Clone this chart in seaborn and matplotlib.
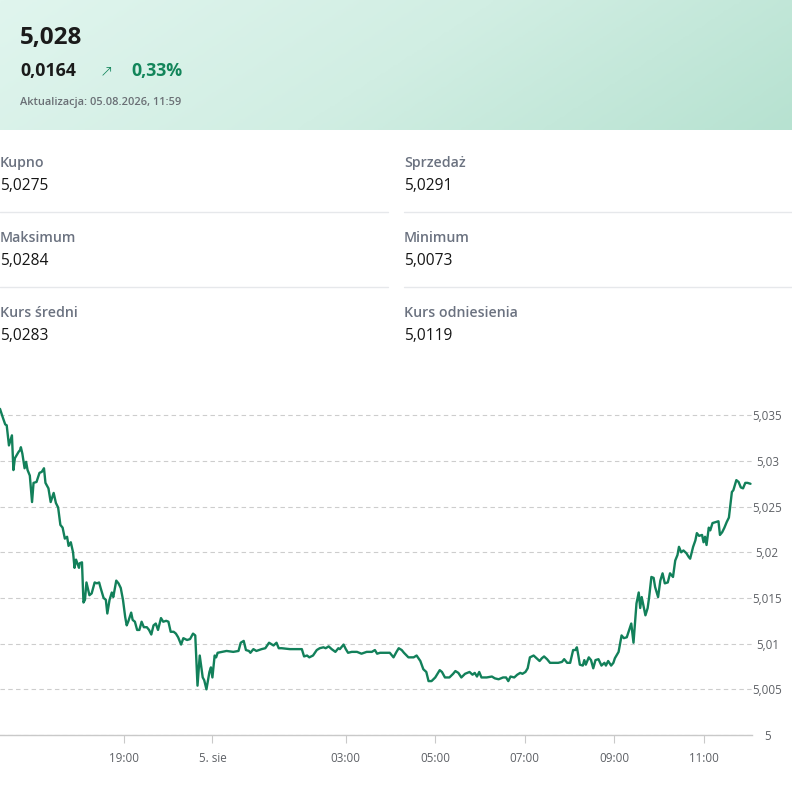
import numpy as np
import pandas as pd
import matplotlib
matplotlib.use("Agg")
import matplotlib.pyplot as plt
import seaborn as sns
from matplotlib.colors import LinearSegmentedColormap
from matplotlib.ticker import FuncFormatter

# kurs - minuty osi (oś porządkowa, przerwa nocna ściśnięta) i wartości
minutes = [0, 4, 7, 9, 12, 16, 18, 20, 25, 27, 28, 30, 33, 35, 37, 40, 43, 45, 49, 53,
           56, 59, 61, 65, 68, 72, 75, 78, 81, 84, 87, 90, 92, 95, 98, 100, 102, 106, 107, 110,
           112, 114, 116, 120, 123, 127, 130, 133, 135, 139, 142, 144, 147, 150, 152, 156, 159, 162, 165, 168,
           170, 172, 176, 178, 181, 184, 187, 190, 193, 197, 200, 203, 206, 209, 212, 216, 219, 223, 226, 229,
           233, 236, 239, 243, 246, 251, 255, 259, 262, 265, 268, 272, 274, 277, 281, 283, 285, 288, 290, 292,
           298, 304, 313, 320, 323, 327, 330, 334, 336, 340, 344, 351, 356, 361, 367, 371, 374, 378, 389, 405,
           408, 412, 415, 420, 425, 429, 434, 437, 441, 445, 450, 454, 456, 461, 464, 467, 472, 479, 485, 492,
           499, 503, 506, 510, 517, 523, 528, 532, 535, 539, 542, 548, 555, 559, 564, 568, 572, 575, 579, 584,
           590, 593, 597, 603, 608, 611, 615, 619, 624, 630, 634, 637, 640, 643, 646, 653, 660, 664, 669, 675,
           679, 682, 685, 690, 694, 698, 701, 705, 708, 711, 716, 720, 724, 727, 730, 734, 738, 743, 749, 754,
           757, 761, 765, 769, 772, 774, 776, 778, 782, 784, 786, 790, 793, 796, 799, 803, 807, 811, 813, 816,
           820, 823, 825, 830, 834, 837, 841, 845, 847, 850, 854, 857, 859, 861, 866, 869, 871, 874, 877, 879,
           883, 886, 889, 892, 896, 899, 903, 906, 909, 911, 914, 917, 921, 924, 926, 930, 933, 935, 938, 942,
           944, 946, 948, 951, 953, 956, 960, 964, 966, 969, 972, 975, 978, 982, 984, 988, 991, 994, 997, 1000,
           1003, 1007]
rate = [5.0357, 5.0347, 5.0340, 5.0339, 5.0317, 5.0328, 5.0290, 5.0303, 5.0310, 5.0312,
        5.0315, 5.0308, 5.0292, 5.0299, 5.0290, 5.0284, 5.0255, 5.0276, 5.0277, 5.0287,
        5.0288, 5.0292, 5.0276, 5.0270, 5.0255, 5.0265, 5.0254, 5.0249, 5.0230, 5.0227,
        5.0215, 5.0217, 5.0207, 5.0211, 5.0200, 5.0183, 5.0192, 5.0183, 5.0188, 5.0189,
        5.0145, 5.0148, 5.0167, 5.0153, 5.0155, 5.0167, 5.0166, 5.0167, 5.0161, 5.0150,
        5.0148, 5.0133, 5.0148, 5.0156, 5.0151, 5.0169, 5.0166, 5.0161, 5.0148, 5.0129,
        5.0120, 5.0124, 5.0134, 5.0126, 5.0124, 5.0115, 5.0115, 5.0124, 5.0118, 5.0118,
        5.0115, 5.0110, 5.0120, 5.0122, 5.0115, 5.0128, 5.0124, 5.0125, 5.0124, 5.0113,
        5.0113, 5.0111, 5.0107, 5.0099, 5.0106, 5.0104, 5.0105, 5.0111, 5.0109, 5.0054,
        5.0087, 5.0063, 5.0060, 5.0050, 5.0069, 5.0074, 5.0063, 5.0087, 5.0085, 5.0090,
        5.0091, 5.0092, 5.0091, 5.0092, 5.0101, 5.0103, 5.0093, 5.0092, 5.0090, 5.0094,
        5.0092, 5.0094, 5.0095, 5.0101, 5.0098, 5.0101, 5.0095, 5.0095, 5.0094, 5.0094,
        5.0086, 5.0087, 5.0085, 5.0087, 5.0093, 5.0095, 5.0096, 5.0095, 5.0097, 5.0094,
        5.0091, 5.0095, 5.0094, 5.0099, 5.0094, 5.0090, 5.0091, 5.0091, 5.0089, 5.0091,
        5.0091, 5.0093, 5.0089, 5.0090, 5.0090, 5.0090, 5.0085, 5.0091, 5.0095, 5.0093,
        5.0090, 5.0085, 5.0085, 5.0087, 5.0081, 5.0072, 5.0069, 5.0059, 5.0059, 5.0063,
        5.0071, 5.0069, 5.0063, 5.0063, 5.0067, 5.0070, 5.0068, 5.0063, 5.0067, 5.0069,
        5.0066, 5.0068, 5.0064, 5.0069, 5.0063, 5.0063, 5.0064, 5.0062, 5.0061, 5.0063,
        5.0063, 5.0059, 5.0064, 5.0063, 5.0066, 5.0068, 5.0067, 5.0069, 5.0073, 5.0085,
        5.0087, 5.0084, 5.0081, 5.0084, 5.0086, 5.0083, 5.0079, 5.0079, 5.0079, 5.0080,
        5.0083, 5.0079, 5.0079, 5.0093, 5.0093, 5.0096, 5.0087, 5.0077, 5.0076, 5.0082,
        5.0077, 5.0085, 5.0082, 5.0073, 5.0082, 5.0083, 5.0076, 5.0079, 5.0076, 5.0081,
        5.0076, 5.0079, 5.0084, 5.0091, 5.0109, 5.0106, 5.0107, 5.0117, 5.0122, 5.0101,
        5.0144, 5.0156, 5.0139, 5.0151, 5.0131, 5.0139, 5.0151, 5.0173, 5.0172, 5.0162,
        5.0151, 5.0169, 5.0177, 5.0166, 5.0167, 5.0177, 5.0173, 5.0191, 5.0197, 5.0206,
        5.0200, 5.0202, 5.0199, 5.0195, 5.0193, 5.0206, 5.0213, 5.0221, 5.0218, 5.0219,
        5.0211, 5.0217, 5.0208, 5.0227, 5.0224, 5.0232, 5.0233, 5.0234, 5.0219, 5.0222,
        5.0227, 5.0233, 5.0238, 5.0266, 5.0268, 5.0279, 5.0277, 5.0271, 5.0270, 5.0276,
        5.0276, 5.0275]

tick_minutes = [166, 285, 464, 584, 704, 824, 945]
tick_labels = ["19:00", "5. sie", "03:00", "05:00", "07:00", "09:00", "11:00"]
y_ticks = [5.0, 5.005, 5.01, 5.015, 5.02, 5.025, 5.03, 5.035]

stat_labels = ["Kupno", "Sprzedaż", "Maksimum", "Minimum", "Kurs średni", "Kurs odniesienia"]
stat_values = ["5,0275", "5,0291", "5,0284", "5,0073", "5,0283", "5,0119"]

df = pd.DataFrame({"minute": minutes, "rate": rate})

sns.set_style("white")
plt.rcParams["font.family"] = ["Open Sans", "DejaVu Sans"]

W, H = 792, 790
fig = plt.figure(figsize=(W / 100, H / 100), dpi=100)

def fy(py):
    return 1 - py / H

# header gradient
hax = fig.add_axes([0, fy(130), 1, 130 / H])
cmap = LinearSegmentedColormap.from_list("mint", ["#e0f5ee", "#d1eee3", "#b7e2d1"])
gx, gy = np.meshgrid(np.linspace(0, 1, 300), np.linspace(0, 1, 60))
hax.imshow(0.8 * gx + 0.2 * gy, cmap=cmap, aspect="auto", extent=[0, 1, 1, 0])
hax.axis("off")

fig.text(20 / W, fy(38), "5,028", fontsize=17.5, fontweight="bold", color="#1b1b1b", va="center")
fig.text(20 / W, fy(71), "0,0164", fontsize=12.8, fontweight="bold", color="#1b1b1b", va="center")
fig.text(100 / W, fy(71), "↗", fontsize=11.5, color="#12855a", va="center",
         family=["DejaVu Sans"], fontweight="light")
fig.text(131 / W, fy(71), "0,33%", fontsize=12.8, fontweight="bold", color="#12855a", va="center")
fig.text(20 / W, fy(102), "Aktualizacja: 05.08.2026, 11:59", fontsize=7.9, fontweight="semibold",
         color="#6a6f75", va="center")

# stats grid
for i, (lab, val) in enumerate(zip(stat_labels, stat_values)):
    col, row = i % 2, i // 2
    x0 = 0 if col == 0 else 404
    y0 = 163 + row * 75
    fig.text(x0 / W, fy(y0), lab, fontsize=10.2, fontweight="semibold", color="#6b7280", va="center")
    fig.text(x0 / W, fy(y0 + 23), val, fontsize=11.2, color="#161616", va="center")
for ly in [212, 287]:
    fig.add_artist(plt.Line2D([0, 388 / W], [fy(ly), fy(ly)], color="#e6e8eb", lw=1))
    fig.add_artist(plt.Line2D([404 / W, 1], [fy(ly), fy(ly)], color="#e6e8eb", lw=1))

# chart
ax = fig.add_axes([0, fy(735), 752 / W, (735 - 397) / H])
sns.lineplot(data=df, x="minute", y="rate", ax=ax, color="#12805a", linewidth=1.7)
ax.set_xlim(0, 1009)
ax.set_ylim(5.0, 5.037)
ax.set_xlabel("")
ax.set_ylabel("")
for s in ["top", "left", "right"]:
    ax.spines[s].set_visible(False)
ax.spines["bottom"].set_color("#c9c9c9")
ax.spines["bottom"].set_linewidth(1)

ax.set_xticks(tick_minutes)
ax.set_xticklabels(tick_labels)
ax.tick_params(axis="x", direction="out", length=6, width=0.8, color="#c9c9c9",
               pad=6, labelsize=8.4, labelcolor="#5e6166", bottom=True)

ax.yaxis.tick_right()
ax.set_yticks(y_ticks)
ax.yaxis.set_major_formatter(FuncFormatter(lambda v, p: f"{v:.3f}".rstrip("0").rstrip(".").replace(".", ",")))
ax.tick_params(axis="y", length=0, pad=11, labelsize=8.4, labelcolor="#5e6166", right=True)
for lbl in ax.get_yticklabels():
    lbl.set_horizontalalignment("center")
ax.grid(axis="y", color="#cdcdcd", linestyle=(0, (4, 3)), linewidth=0.8)
ax.grid(axis="x", visible=False)

fig.savefig("out.png", dpi=100)
